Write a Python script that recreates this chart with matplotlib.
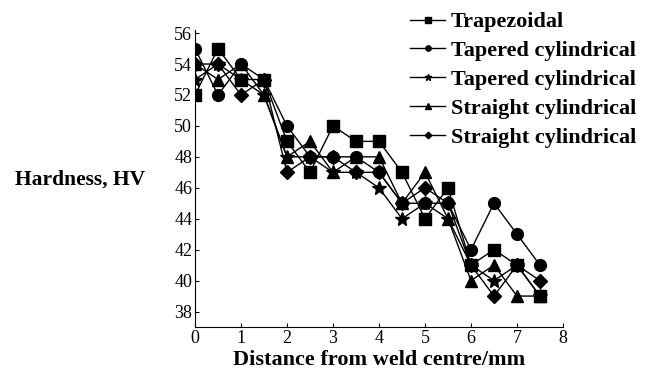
import matplotlib.pyplot as plt

plt.rcParams['font.family'] = ['Liberation Serif', 'DejaVu Serif']

distance = [0, 0.5, 1, 1.5, 2, 2.5, 3, 3.5, 4, 4.5, 5, 5.5, 6, 6.5, 7, 7.5]

# hardness values
trapezoidal = [52, 55, 53, 53, 49, 47, 50, 49, 49, 47, 44, 46, 41, 42, 41, 39]
tapered_1 = [55, 52, 54, 53, 50, 48, 48, 48, 47, 45, 45, 45, 42, 45, 43, 41]
tapered_2 = [53, 54, 53, 52, 48, 48, 47, 47, 46, 44, 45, 44, 41, 40, 41, 39]
straight_1 = [54, 53, 54, 52, 48, 49, 47, 48, 48, 45, 47, 44, 40, 41, 39, 39]
straight_2 = [54, 54, 52, 53, 47, 48, 48, 47, 47, 45, 46, 45, 41, 39, 41, 40]

labels = ['Trapezoidal', 'Tapered cylindrical', 'Tapered cylindrical',
          'Straight cylindrical', 'Straight cylindrical']
series = [trapezoidal, tapered_1, tapered_2, straight_1, straight_2]
markers = ['s', 'o', '*', '^', 'D']
sizes = [8.5, 8.5, 10, 8.5, 7.5]

fig = plt.figure(figsize=(6.6, 3.79), dpi=100)
ax = fig.add_axes([195 / 660, 1 - 327 / 379, 368 / 660, 297 / 379])

lines = []
for vals, m, s, lab in zip(series, markers, sizes, labels):
    ln, = ax.plot(distance, vals, color='black', linewidth=1, marker=m,
                  markersize=s, label=lab)
    lines.append(ln)

ax.set_xlim(0, 8)
ax.set_ylim(37, 56.2)
ax.set_xticks(range(0, 9))
ax.set_yticks(range(38, 57, 2))
ax.tick_params(direction='in', labelsize=13, length=3, pad=2)
ax.spines['top'].set_visible(False)
ax.spines['right'].set_visible(False)

ax.set_xlabel('Distance from weld centre/mm', fontsize=16, fontweight='bold',
              labelpad=2)
fig.text(15 / 660, 1 - 180 / 379, 'Hardness, HV', fontsize=15.5,
         fontweight='bold', va='center', ha='left')

leg = fig.legend(handles=lines, loc='upper left',
                 bbox_to_anchor=(401 / 660, 1 - 3 / 379), frameon=False,
                 markerscale=0.45, handlelength=1.6, handletextpad=0.25,
                 labelspacing=0.37, borderaxespad=0,
                 prop={'weight': 'bold', 'size': 16})

fig.savefig('out.png', dpi=100)
